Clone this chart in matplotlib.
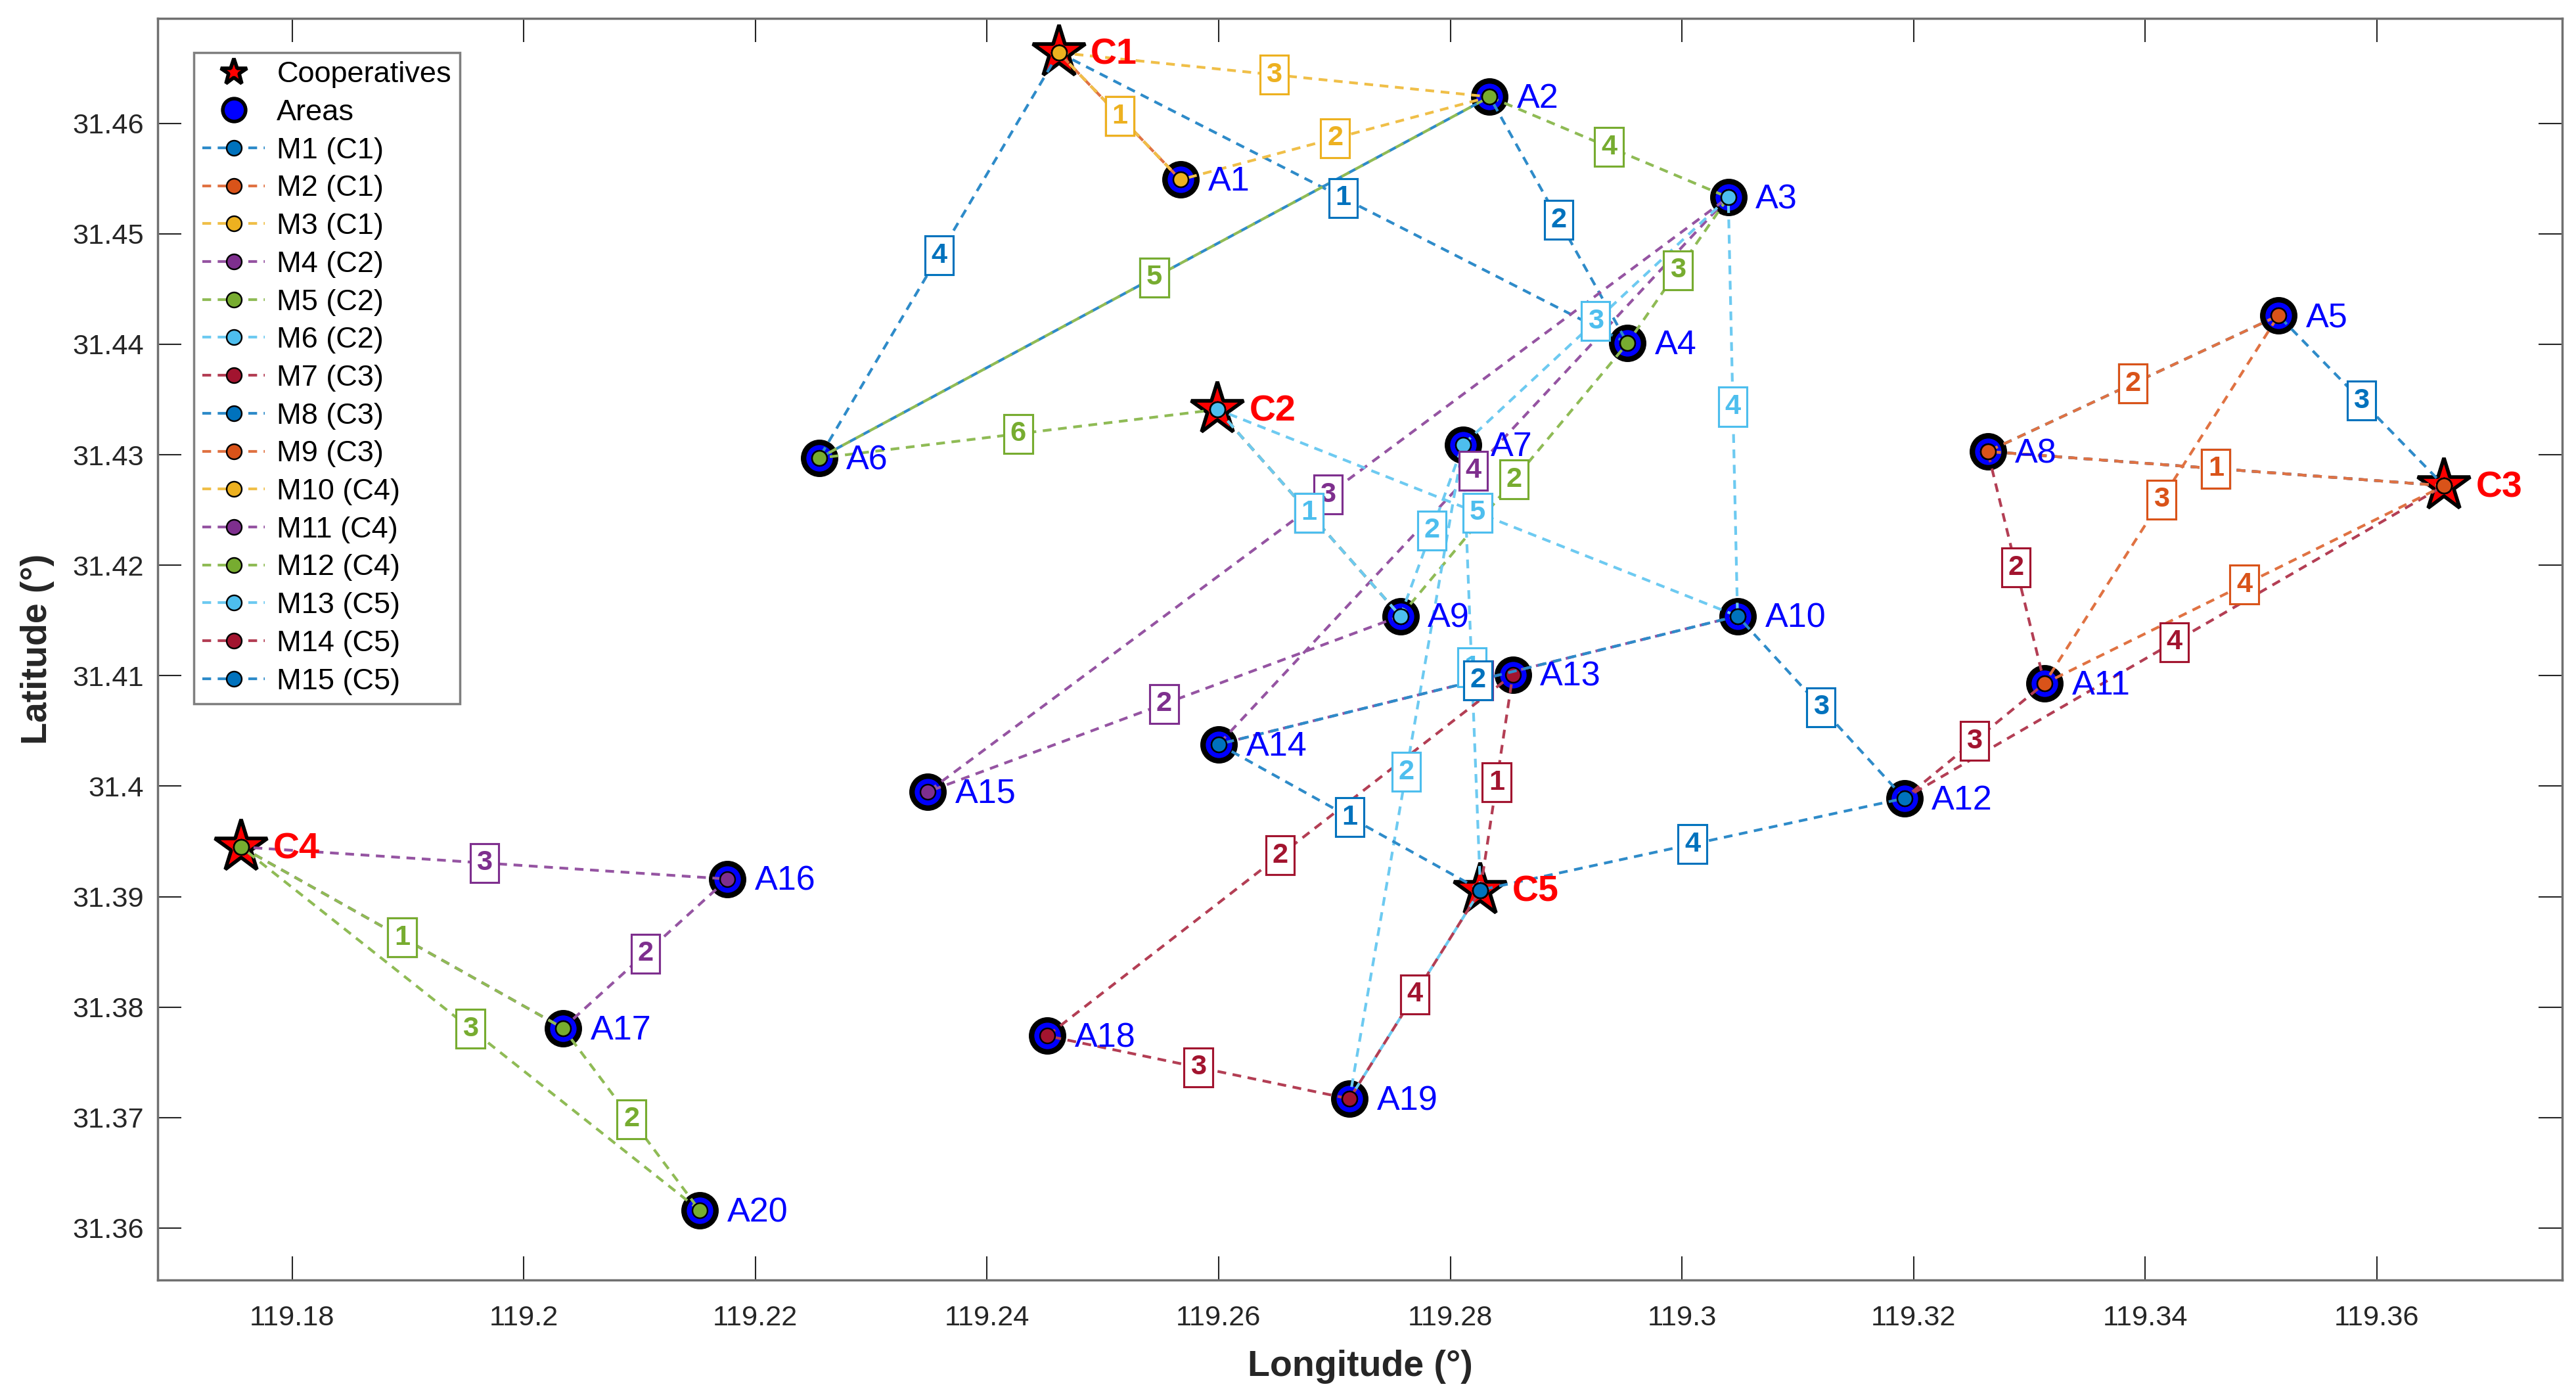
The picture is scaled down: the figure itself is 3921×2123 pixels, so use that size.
import matplotlib
matplotlib.use('Agg')
import matplotlib.pyplot as plt
from matplotlib.lines import Line2D
import numpy as np

plt.rcParams['font.family'] = ['Liberation Sans', 'DejaVu Sans']

# ---------------- data ----------------
coop_names = ['C1', 'C2', 'C3', 'C4', 'C5']
coop_lon = [119.2462, 119.2599, 119.3658, 119.1756, 119.2826]
coop_lat = [31.4664, 31.4341, 31.4272, 31.3945, 31.3906]

area_names = ['A1', 'A2', 'A3', 'A4', 'A5', 'A6', 'A7', 'A8', 'A9', 'A10',
              'A11', 'A12', 'A13', 'A14', 'A15', 'A16', 'A17', 'A18', 'A19', 'A20']
area_lon = [119.2567, 119.2834, 119.3040, 119.2953, 119.3515, 119.2255, 119.2811,
            119.3264, 119.2757, 119.3048, 119.3313, 119.3192, 119.2854, 119.2600,
            119.2349, 119.2176, 119.2034, 119.2452, 119.2713, 119.2152]
area_lat = [31.4549, 31.4624, 31.4533, 31.4401, 31.4426, 31.4297, 31.4309,
            31.4303, 31.4154, 31.4154, 31.4093, 31.3989, 31.4101, 31.4038,
            31.3995, 31.3916, 31.3781, 31.3774, 31.3717, 31.3616]

route_names = ['M1 (C1)', 'M2 (C1)', 'M3 (C1)', 'M4 (C2)', 'M5 (C2)', 'M6 (C2)',
               'M7 (C3)', 'M8 (C3)', 'M9 (C3)', 'M10 (C4)', 'M11 (C4)', 'M12 (C4)',
               'M13 (C5)', 'M14 (C5)', 'M15 (C5)']
route_coop = [0, 0, 0, 1, 1, 1, 2, 2, 2, 3, 3, 3, 4, 4, 4]
route_areas = [[4, 2, 6], [1], [1, 2], [9, 15, 3, 14, 10], [9, 4, 3, 2, 6],
               [9, 7, 3, 10], [8, 11, 12], [8, 5], [8, 5, 11], [], [17, 16],
               [17, 20], [7, 19], [13, 18, 19], [14, 10, 12]]
route_returns = [True, True, True, False, True, True, True, True, True, True,
                 True, True, True, True, True]

palette = ['#0072BD', '#D95319', '#EDB120', '#7E2F8E', '#77AC30', '#4DBEEE', '#A2142F']

x_ticks = [119.18, 119.20, 119.22, 119.24, 119.26, 119.28, 119.30, 119.32, 119.34, 119.36]
x_ticklabels = ['119.18', '119.2', '119.22', '119.24', '119.26', '119.28', '119.3',
                '119.32', '119.34', '119.36']
y_ticks = [31.36, 31.37, 31.38, 31.39, 31.40, 31.41, 31.42, 31.43, 31.44, 31.45, 31.46]
y_ticklabels = ['31.36', '31.37', '31.38', '31.39', '31.4', '31.41', '31.42', '31.43',
                '31.44', '31.45', '31.46']

# ---------------- figure ----------------
W, H, DPI = 3921, 2123, 250
fig = plt.figure(figsize=(W / DPI, H / DPI), dpi=DPI)
ax = fig.add_axes([240 / W, 1 - 1948 / H, (3900 - 240) / W, (1948 - 28) / H])
ax.set_xlim(119.1684, 119.3760)
ax.set_ylim(31.3553, 31.4695)

# areas and cooperatives
ax.plot(area_lon, area_lat, ls='none', marker='o', ms=14, mfc='#0000FF', mec='k',
        mew=2.4, zorder=2)
ax.plot(coop_lon, coop_lat, ls='none', marker='*', ms=24, mfc='#FF0000', mec='k',
        mew=1.6, zorder=2)

for n, x, y in zip(area_names, area_lon, area_lat):
    ax.annotate(n, (x, y), xytext=(12, -1), textcoords='offset points', color='#0000FF',
                fontsize=15, ha='left', va='center', zorder=4)
for n, x, y in zip(coop_names, coop_lon, coop_lat):
    ax.annotate(n, (x, y), xytext=(14, -1), textcoords='offset points', color='#FF0000',
                fontsize=16, fontweight='bold', ha='left', va='center', zorder=4)


def lighten(c, f=0.18):
    r = np.array(matplotlib.colors.to_rgb(c))
    return tuple(r * (1 - f) + f)


route_handles = []
for i, (name, c, areas, ret) in enumerate(zip(route_names, route_coop, route_areas,
                                               route_returns)):
    col = palette[i % len(palette)]
    if areas:
        xs = [coop_lon[c]] + [area_lon[a - 1] for a in areas]
        ys = [coop_lat[c]] + [area_lat[a - 1] for a in areas]
        if ret:
            xs.append(coop_lon[c])
            ys.append(coop_lat[c])
    else:
        xs, ys = [], []
    h, = ax.plot(xs, ys, ls=(0, (3.2, 2.4)), lw=1.2, color=lighten(col), marker='o',
                 ms=6.6, mfc=col, mec='k', mew=0.7, zorder=3 + i * 0.01, label=name)
    route_handles.append(h)
    for k in range(len(xs) - 1):
        mx = (xs[k] + xs[k + 1]) / 2
        my = (ys[k] + ys[k + 1]) / 2
        ax.text(mx, my, str(k + 1), color=col, fontsize=12.5, fontweight='bold',
                ha='center', va='center', zorder=5 + i * 0.01,
                bbox=dict(boxstyle='square,pad=0.22', fc='white', ec=col, lw=0.9))

# legend
h_coop = Line2D([], [], ls='none', marker='*', ms=12, mfc='#FF0000', mec='k', mew=1.6)
h_area = Line2D([], [], ls='none', marker='o', ms=10, mfc='#0000FF', mec='k', mew=1.6)
leg = ax.legend([h_coop, h_area] + route_handles, ['Cooperatives', 'Areas'] + route_names,
                loc='upper left', bbox_to_anchor=(0.015, 0.973), borderaxespad=0,
                fontsize=13, labelspacing=0.37, handlelength=2.1, handletextpad=0.4,
                borderpad=0.3, fancybox=False, framealpha=1, edgecolor='#7f7f7f',
                numpoints=1)
leg.get_frame().set_linewidth(1.0)
leg.set_zorder(10)

# axes styling
ax.set_xticks(x_ticks)
ax.set_xticklabels(x_ticklabels)
ax.set_yticks(y_ticks)
ax.set_yticklabels(y_ticklabels)
ax.tick_params(direction='in', length=10.5, width=0.6, top=True, right=True,
               labelsize=12.5, colors='#262626')
ax.tick_params(axis='x', pad=11)
ax.tick_params(axis='y', pad=6)
for s in ax.spines.values():
    s.set_color('#707070')
    s.set_linewidth(1.0)
ax.set_xlabel('Longitude (°)', fontsize=16, fontweight='bold', color='#262626', labelpad=8)
ax.set_ylabel('Latitude (°)', fontsize=16, fontweight='bold', color='#262626', labelpad=8)

fig.savefig('out.png', dpi=DPI)
